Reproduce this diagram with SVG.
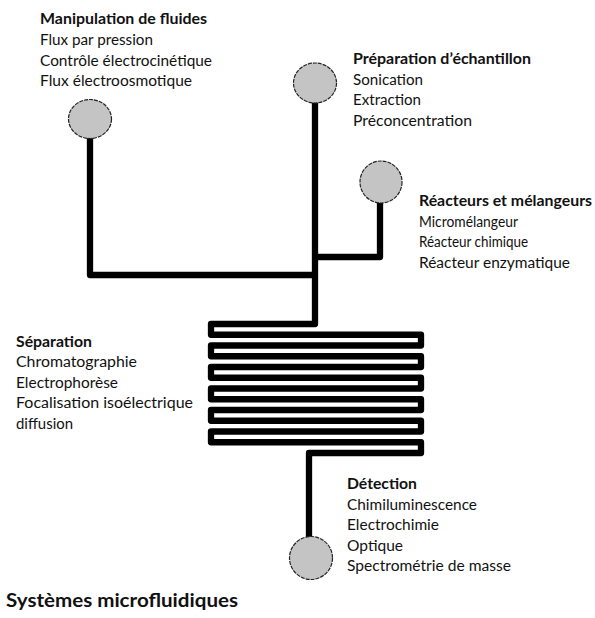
<svg xmlns="http://www.w3.org/2000/svg" width="595" height="618" viewBox="0 0 595 618">
<style>
.ch{fill:none;stroke:#000;stroke-width:6.3;stroke-linejoin:round;stroke-linecap:butt}
.port{fill:#c4c4c4;stroke:#222;stroke-width:1.2;stroke-dasharray:4 1}
text{font-family:Lato,"Liberation Sans",sans-serif;font-size:14.6px;fill:#111}
.h{font-weight:bold}
.t{font-weight:bold;font-size:18.5px}
</style>
<rect width="595" height="618" fill="#fff"/>
<g id="connectors">
<path class="ch" d="M90,119 V275 H315"/>
<path class="ch" d="M315,257 H380 V182"/>
<path class="ch" d="M315,83 V324 H211 V334.75 H421 V345.5 H211 V356.25 H421 V367 H211 V377.75 H421 V388.5 H211 V399.25 H421 V410 H211 V420.75 H421 V431.5 H211 V442.25 H421 V453 H309 V558"/>
</g>
<g id="manipulation">
<ellipse class="port" cx="90" cy="119" rx="21.5" ry="19.5"/>
<text class="h" x="40" y="24" textLength="167" lengthAdjust="spacingAndGlyphs">Manipulation de fluides</text>
<text x="40" y="45" textLength="113" lengthAdjust="spacingAndGlyphs">Flux par pression</text>
<text x="40" y="65.5" textLength="172" lengthAdjust="spacingAndGlyphs">Contrôle électrocinétique</text>
<text x="40" y="86" textLength="152" lengthAdjust="spacingAndGlyphs">Flux électroosmotique</text>
</g>
<g id="preparation">
<ellipse class="port" cx="315" cy="83" rx="21.5" ry="20"/>
<text class="h" x="353" y="64" textLength="178" lengthAdjust="spacingAndGlyphs">Préparation d’échantillon</text>
<text x="353" y="84.5" textLength="70" lengthAdjust="spacingAndGlyphs">Sonication</text>
<text x="353" y="105" textLength="68" lengthAdjust="spacingAndGlyphs">Extraction</text>
<text x="353" y="125.5" textLength="119" lengthAdjust="spacingAndGlyphs">Préconcentration</text>
</g>
<g id="reacteurs">
<circle class="port" cx="381" cy="182" r="21"/>
<text class="h" x="419" y="206" textLength="173" lengthAdjust="spacingAndGlyphs">Réacteurs et mélangeurs</text>
<text x="419" y="226.5" textLength="99" lengthAdjust="spacingAndGlyphs">Micromélangeur</text>
<text x="419" y="247" textLength="109" lengthAdjust="spacingAndGlyphs">Réacteur chimique</text>
<text x="419" y="267.5" textLength="151" lengthAdjust="spacingAndGlyphs">Réacteur enzymatique</text>
</g>
<g id="separation">
<text class="h" x="16" y="346.5" textLength="76" lengthAdjust="spacingAndGlyphs">Séparation</text>
<text x="16" y="367" textLength="121" lengthAdjust="spacingAndGlyphs">Chromatographie</text>
<text x="16" y="387.5" textLength="102" lengthAdjust="spacingAndGlyphs">Electrophorèse</text>
<text x="16" y="408" textLength="177" lengthAdjust="spacingAndGlyphs">Focalisation isoélectrique</text>
<text x="16" y="428.5" textLength="57" lengthAdjust="spacingAndGlyphs">diffusion</text>
</g>
<g id="detection">
<circle class="port" cx="311" cy="558" r="21.5"/>
<text class="h" x="347" y="489" textLength="70" lengthAdjust="spacingAndGlyphs">Détection</text>
<text x="347" y="509.5" textLength="130" lengthAdjust="spacingAndGlyphs">Chimiluminescence</text>
<text x="347" y="530" textLength="92" lengthAdjust="spacingAndGlyphs">Electrochimie</text>
<text x="347" y="550.5" textLength="56" lengthAdjust="spacingAndGlyphs">Optique</text>
<text x="347" y="571" textLength="164" lengthAdjust="spacingAndGlyphs">Spectrométrie de masse</text>
</g>
<g id="title">
<text class="t" x="6" y="607" textLength="232" lengthAdjust="spacingAndGlyphs">Systèmes microfluidiques</text>
</g>
</svg>
